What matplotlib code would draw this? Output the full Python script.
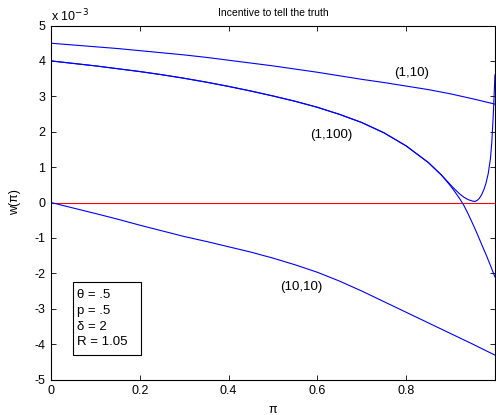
import numpy as np
import matplotlib
matplotlib.use('Agg')
import matplotlib.pyplot as plt
from matplotlib.patches import Rectangle

plt.rcParams['font.family'] = ['Liberation Sans', 'DejaVu Sans']
plt.rcParams['axes.unicode_minus'] = False

# curva (1,10)
x_1_10 = [0, 0.05, 0.1, 0.15, 0.2, 0.25, 0.3, 0.35, 0.4, 0.45, 0.5, 0.55, 0.6,
          0.65, 0.7, 0.75, 0.8, 0.85, 0.9, 0.95, 1.0]
y_1_10 = [4.5, 4.45, 4.4, 4.35, 4.29, 4.23, 4.17, 4.1, 4.02, 3.94, 3.86, 3.77, 3.68,
          3.58, 3.48, 3.39, 3.29, 3.19, 3.07, 2.93, 2.78]

# curva (1,100) - ramo che risale
x_1_100a = [0, 0.05, 0.1, 0.15, 0.2, 0.25, 0.3, 0.35, 0.4, 0.45, 0.5, 0.55, 0.6,
            0.65, 0.7, 0.75, 0.8, 0.85, 0.88, 0.9, 0.91, 0.92, 0.93, 0.94, 0.95,
            0.955, 0.96, 0.965, 0.97, 0.975, 0.98, 0.985, 0.99, 0.993, 0.996, 0.998, 1.0]
y_1_100a = [4.0, 3.93, 3.86, 3.78, 3.7, 3.61, 3.51, 3.4, 3.28, 3.15, 3.01, 2.86, 2.69,
            2.49, 2.26, 1.97, 1.6, 1.13, 0.77, 0.5, 0.37, 0.25, 0.15, 0.08, 0.04,
            0.03, 0.06, 0.12, 0.22, 0.36, 0.55, 0.82, 1.25, 1.7, 2.4, 2.95, 3.6]

# curva (1,100) - ramo che scende
x_1_100b = [0, 0.05, 0.1, 0.15, 0.2, 0.25, 0.3, 0.35, 0.4, 0.45, 0.5, 0.55, 0.6,
            0.65, 0.7, 0.75, 0.8, 0.85, 0.88, 0.9, 0.91, 0.92, 0.93, 0.94, 0.95,
            0.96, 0.97, 0.98, 0.99, 1.0]
y_1_100b = [4.0, 3.93, 3.86, 3.78, 3.7, 3.61, 3.51, 3.4, 3.28, 3.15, 3.01, 2.86, 2.69,
            2.49, 2.26, 1.97, 1.6, 1.13, 0.77, 0.47, 0.3, 0.12, -0.08, -0.33, -0.6,
            -0.88, -1.18, -1.47, -1.78, -2.1]

# curva (10,10)
x_10_10 = [0, 0.05, 0.1, 0.15, 0.2, 0.25, 0.3, 0.35, 0.4, 0.45, 0.5, 0.55, 0.6,
           0.65, 0.7, 0.75, 0.8, 0.85, 0.9, 0.95, 1.0]
y_10_10 = [0, -0.155, -0.31, -0.47, -0.64, -0.8, -0.96, -1.1, -1.25, -1.4, -1.57, -1.76, -1.97,
           -2.22, -2.5, -2.8, -3.1, -3.4, -3.7, -4.0, -4.31]

xticks = [0, 0.2, 0.4, 0.6, 0.8, 1]
xticklabels = ['0', '0.2', '0.4', '0.6', '0.8', '']
yticks = [-5, -4, -3, -2, -1, 0, 1, 2, 3, 4, 5]

fig = plt.figure(figsize=(4.96, 4.15), dpi=100)
ax = fig.add_axes([0.1028, 0.0855, 0.895, 0.853])

lw = 0.8
ax.plot([0, 1], [0, 0], color='red', lw=lw)
ax.plot(x_1_10, y_1_10, color='blue', lw=lw)
ax.plot(x_1_100a, y_1_100a, color='blue', lw=lw)
ax.plot(x_1_100b, y_1_100b, color='blue', lw=lw)
ax.plot(x_10_10, y_10_10, color='blue', lw=lw)

ax.set_xlim(0, 1)
ax.set_ylim(-5, 5)
ax.set_xticks(xticks)
ax.set_xticklabels(xticklabels)
ax.set_yticks(yticks)
ax.tick_params(direction='in', top=True, right=True, labelsize=9, length=3.5, width=0.6, pad=4)
for s in ax.spines.values():
    s.set_linewidth(0.8)

ax.text(0.813, 3.66, '(1,10)', fontsize=9.5, ha='center', va='center')
ax.text(0.632, 1.91, '(1,100)', fontsize=9.5, ha='center', va='center')
ax.text(0.563, -2.39, '(10,10)', fontsize=9.5, ha='center', va='center')

# riquadro dei parametri
ax.add_patch(Rectangle((0.05, -4.31), 0.152, 2.07, facecolor='white',
                       edgecolor='black', lw=0.8, zorder=3))
ax.text(0.058, -3.285, 'θ = .5\np = .5\nδ = 2\nR = 1.05', fontsize=9.5,
        ha='left', va='center', linespacing=1.4, zorder=4)

ax.text(0.0, 1.004, 'x 10$^{-3}$', transform=ax.transAxes, fontsize=9, ha='left', va='bottom')
ax.set_title('Incentive to tell the truth', fontsize=7.5, pad=7)
ax.set_xlabel('π', fontsize=9, labelpad=5)
ax.set_ylabel('w(π)', fontsize=9, labelpad=10)

fig.savefig('out.png', dpi=100)
